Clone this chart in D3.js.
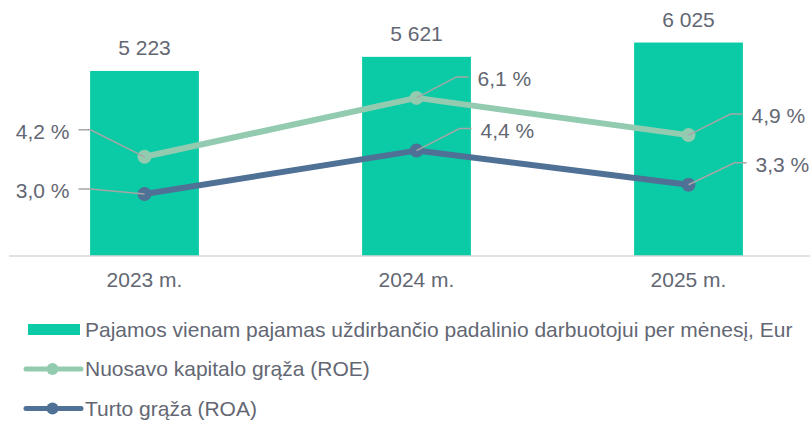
<!DOCTYPE html>
<html>
<head>
<meta charset="utf-8">
<script src="https://cdn.jsdelivr.net/npm/d3@7"></script>
<style>
  body { margin: 0; background: #fff; }
  svg text { font-family: "Liberation Sans", Arial, sans-serif; fill: #636773; }
</style>
</head>
<body>
<svg id="chart"></svg>
<script>
// data
const years = ["2023 m.", "2024 m.", "2025 m."];
const income = [5223, 5621, 6025];
const incomeLabels = ["5 223", "5 621", "6 025"];
const roe = [4.2, 6.1, 4.9];
const roa = [3.0, 4.4, 3.3];
const legendNames = [
  "Pajamos vienam pajamas uždirbančio padalinio darbuotojui per mėnesį, Eur",
  "Nuosavo kapitalo grąža (ROE)",
  "Turto grąža (ROA)"
];

const svgWidth = 810, svgHeight = 422;
const barColor = "#0acba6", roeColor = "#93cbb1", roaColor = "#4f7196";
const leaderColor = "#a6a6a6";

const svg = d3.select("#chart")
    .attr("width", svgWidth)
    .attr("height", svgHeight);

const x = d3.scaleBand()
    .domain(years)
    .range([8.5, 824.5])
    .paddingInner(0.6)
    .paddingOuter(0.3);

const y = d3.scaleLinear()
    .domain([0, 7000])
    .range([256, 8]);

// secondary axis for the percentages
const y2 = d3.scaleLinear()
    .domain([1, 9])
    .range([256, 8]);

// bars
svg.append("g")
  .selectAll("rect")
  .data(income)
  .enter()
  .append("rect")
    .attr("x", (d, i) => x(years[i]))
    .attr("y", d => y(d))
    .attr("width", x.bandwidth())
    .attr("height", d => y(0) - y(d))
    .style("fill", barColor);

svg.append("g")
  .selectAll("text")
  .data(income)
  .enter()
  .append("text")
    .attr("x", (d, i) => x(years[i]) + x.bandwidth() / 2)
    .attr("y", d => y(d) - 16)
    .attr("text-anchor", "middle")
    .style("font-size", "21px")
    .text((d, i) => incomeLabels[i]);

// baseline + category labels
svg.append("line")
    .attr("x1", 9).attr("x2", 810)
    .attr("y1", y(0)).attr("y2", y(0))
    .attr("stroke", "#d9d9d9")
    .attr("stroke-width", 1.5);

svg.append("g")
  .selectAll("text")
  .data(years)
  .enter()
  .append("text")
    .attr("x", d => x(d) + x.bandwidth() / 2)
    .attr("y", 287)
    .attr("text-anchor", "middle")
    .style("font-size", "21px")
    .text(d => d);

const cx = (d, i) => x(years[i]) + x.bandwidth() / 2;

// where each label sits relative to its point: elbow dx/dy, side
const roeLabelPos = [{dx: -54, dy: -27, side: -1}, {dx: 40, dy: -21, side: 1}, {dx: 42, dy: -21, side: 1}];
const roaLabelPos = [{dx: -54, dy: -5, side: -1}, {dx: 43, dy: -22, side: 1}, {dx: 46, dy: -22, side: 1}];

function drawSeries(values, color, labelPos) {
  const line = d3.line()
      .x(cx)
      .y(d => y2(d));

  svg.append("path")
      .datum(values)
      .attr("d", line)
      .attr("fill", "none")
      .attr("stroke", color)
      .attr("stroke-width", 6)
      .attr("stroke-linejoin", "round");

  svg.append("g")
    .selectAll("circle")
    .data(values)
    .enter()
    .append("circle")
      .attr("cx", cx)
      .attr("cy", d => y2(d))
      .attr("r", 7)
      .style("fill", color);

  // leader lines
  svg.append("g")
    .selectAll("path")
    .data(values)
    .enter()
    .append("path")
      .attr("d", function(d, i) {
        const p = labelPos[i];
        const px = cx(d, i), py = y2(d);
        const ex = px + p.dx, ey = py + p.dy;
        return "M" + px + "," + py + "L" + ex + "," + ey + "L" + (ex + p.side * 12) + "," + ey;
      })
      .attr("fill", "none")
      .attr("stroke", leaderColor)
      .attr("stroke-width", 1.5);

  svg.append("g")
    .selectAll("text")
    .data(values)
    .enter()
    .append("text")
      .attr("x", (d, i) => cx(d, i) + labelPos[i].dx + labelPos[i].side * 21)
      .attr("y", (d, i) => y2(d) + labelPos[i].dy + 2)
      .attr("dy", "0.35em")
      .attr("text-anchor", (d, i) => labelPos[i].side < 0 ? "end" : "start")
      .style("font-size", "21px")
      .text(d => d3.format(".1f")(d).replace(".", ",") + " %");
}

drawSeries(roe, roeColor, roeLabelPos);
drawSeries(roa, roaColor, roaLabelPos);

// legend
const legend = svg.append("g");
const legendY = [329.5, 369, 408.5];

legend.append("rect")
    .attr("x", 28).attr("y", legendY[0] - 5.5)
    .attr("width", 52).attr("height", 11)
    .style("fill", barColor);

[roeColor, roaColor].forEach(function(c, i) {
  legend.append("line")
      .attr("x1", 26).attr("x2", 81)
      .attr("y1", legendY[i + 1]).attr("y2", legendY[i + 1])
      .attr("stroke", c)
      .attr("stroke-width", 5)
      .attr("stroke-linecap", "round");
  legend.append("circle")
      .attr("cx", 52.5).attr("cy", legendY[i + 1])
      .attr("r", 6)
      .style("fill", c);
});

legend.selectAll("text")
  .data(legendNames)
  .enter()
  .append("text")
    .attr("x", 85)
    .attr("y", (d, i) => legendY[i])
    .attr("dy", "0.35em")
    .style("font-size", "21px")
    .text(d => d);
</script>
</body>
</html>
